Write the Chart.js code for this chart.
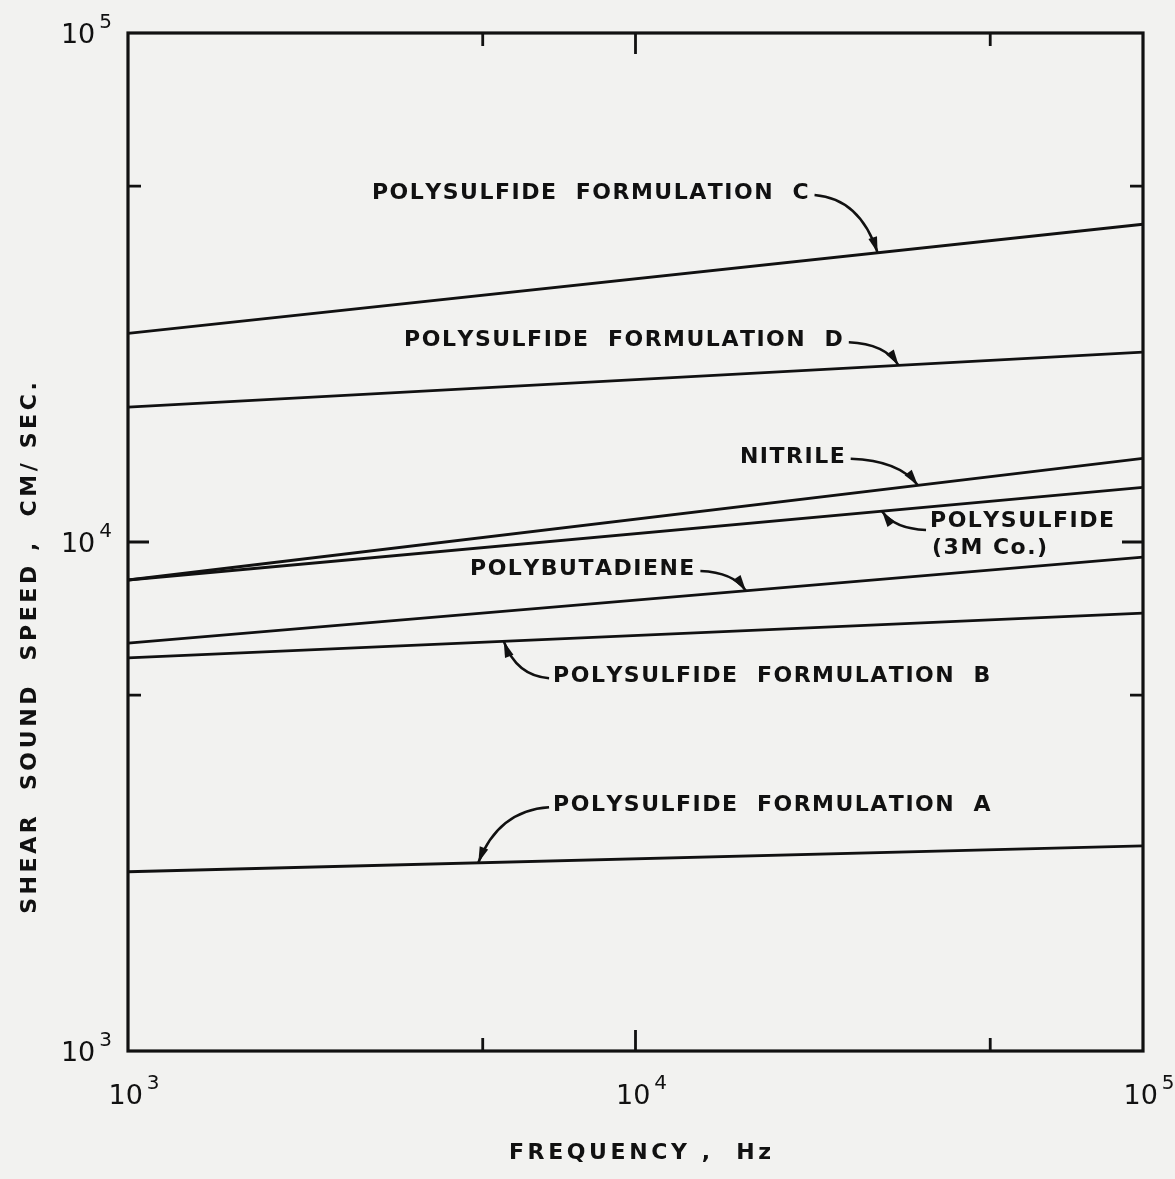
<!DOCTYPE html>
<html>
<head>
<meta charset="utf-8">
<title>Shear sound speed vs frequency</title>
<script src="https://cdn.jsdelivr.net/npm/chart.js@4.4.1/dist/chart.umd.min.js"></script>
<style>
  html, body { margin: 0; padding: 0; background: #f2f2f0; }
  #wrap { width: 1175px; height: 1179px; }
</style>
</head>
<body>
<div id="wrap"><canvas id="myChart" width="1175" height="1179"></canvas></div>
<script>
// DATA
// frequency (Hz) at the two ends of each curve
const freqs = [1e3, 1e5];
// shear sound speed (cm/sec) at those frequencies
const polyC = [25700, 42100];
const polyD = [18400, 23600];
const nitrile = [8420, 14600];
const poly3M = [8420, 12800];
const polybutadiene = [6330, 9340];
const polyB = [5920, 7250];
const polyA = [2250, 2530];

const seriesNames = [
  'Polysulfide Formulation C', 'Polysulfide Formulation D', 'Nitrile',
  'Polysulfide (3M Co.)', 'Polybutadiene', 'Polysulfide Formulation B',
  'Polysulfide Formulation A'
];
const seriesValues = [polyC, polyD, nitrile, poly3M, polybutadiene, polyB, polyA];

// axis ticks
const majorTicks = [1e3, 1e4, 1e5];
const minorTicks = [5e3, 5e4];
const tickExponents = ['3', '4', '5'];

// callouts: text, anchor (freq, speed), which curve the arrow points at and where
const notes = [
  { lines: ['POLYSULFIDE  FORMULATION  C'], at: [3025, 48500], side: 'right', series: 0, tip: 3.0e4 },
  { lines: ['POLYSULFIDE  FORMULATION  D'], at: [3500, 24900], side: 'right', series: 1, tip: 3.3e4 },
  { lines: ['NITRILE'], at: [16060, 14700], side: 'right', series: 2, tip: 3.6e4 },
  { lines: ['POLYSULFIDE', '(3M Co.)'], at: [38050, 11000], side: 'left', series: 3, tip: 3.06e4 },
  { lines: ['POLYBUTADIENE'], at: [4720, 8850], side: 'right', series: 4, tip: 1.65e4 },
  { lines: ['POLYSULFIDE  FORMULATION  B'], at: [6880, 5450], side: 'left', series: 5, tip: 5.5e3 },
  { lines: ['POLYSULFIDE  FORMULATION  A'], at: [6880, 3040], side: 'left', series: 6, tip: 4.9e3 }
];

const INK = '#111';
const LABEL_FONT = 'bold 22px "DejaVu Sans"';
const SPACING = 1.5;
const TITLE_SPACING = 3.6;

// HELPERS
function spacedWidth(ctx, text, sp) {
  let w = 0;
  for (const ch of text) w += ctx.measureText(ch).width + sp;
  return w - sp;
}

function drawSpaced(ctx, text, x, y, sp) {
  for (const ch of text) {
    ctx.fillText(ch, x, y);
    x += ctx.measureText(ch).width + sp;
  }
}

// y pixel of a drawn curve at a given x pixel
function curveY(chart, idx, px) {
  const pts = chart.getDatasetMeta(idx).data;
  const t = (px - pts[0].x) / (pts[1].x - pts[0].x);
  return pts[0].y + t * (pts[1].y - pts[0].y);
}

function drawArrow(ctx, sx, sy, tx, ty) {
  const cx = sx + 0.72 * (tx - sx);
  const cy = sy + 0.06 * (ty - sy);
  ctx.beginPath();
  ctx.moveTo(sx, sy);
  ctx.quadraticCurveTo(cx, cy, tx, ty);
  ctx.lineWidth = 2.5;
  ctx.stroke();
  // arrow head along the end tangent
  const ang = Math.atan2(ty - cy, tx - cx);
  const len = 16, half = 4.5;
  ctx.beginPath();
  ctx.moveTo(tx, ty);
  ctx.lineTo(tx - len * Math.cos(ang) + half * Math.sin(ang), ty - len * Math.sin(ang) - half * Math.cos(ang));
  ctx.lineTo(tx - len * Math.cos(ang) - half * Math.sin(ang), ty - len * Math.sin(ang) + half * Math.cos(ang));
  ctx.closePath();
  ctx.fill();
}

function drawPower(ctx, exp, x, y, align) {
  ctx.font = '27px "DejaVu Sans"';
  const wBase = ctx.measureText('10').width;
  ctx.font = '20px "DejaVu Sans"';
  const wSup = ctx.measureText(exp).width;
  const gap = 4;
  const total = wBase + gap + wSup;
  let left = align === 'right' ? x - total : x - total / 2;
  ctx.textAlign = 'left';
  ctx.textBaseline = 'alphabetic';
  ctx.font = '27px "DejaVu Sans"';
  ctx.fillText('10', left, y);
  ctx.font = '20px "DejaVu Sans"';
  ctx.fillText(exp, left + wBase + gap, y - 15);
}

// PLUGIN: paper, frame, inward ticks, labels and callouts
const paperPlugin = {
  id: 'paper',
  beforeDraw(chart) {
    const ctx = chart.ctx;
    ctx.save();
    ctx.fillStyle = '#f2f2f0';
    ctx.fillRect(0, 0, chart.width, chart.height);
    ctx.restore();
  },
  afterDatasetsDraw(chart) {
    const ctx = chart.ctx;
    const a = chart.chartArea;
    const xs = chart.scales.x, ys = chart.scales.y;
    ctx.save();
    ctx.strokeStyle = INK;
    ctx.fillStyle = INK;

    // frame
    ctx.lineWidth = 3.2;
    ctx.strokeRect(a.left, a.top, a.right - a.left, a.bottom - a.top);

    // inward ticks
    ctx.lineWidth = 2.8;
    const ticks = majorTicks.map(v => [v, 21]).concat(minorTicks.map(v => [v, 13]));
    ticks.forEach(([v, len]) => {
      const px = xs.getPixelForValue(v);
      const py = ys.getPixelForValue(v);
      ctx.beginPath();
      if (px > a.left + 2 && px < a.right - 2) {
        ctx.moveTo(px, a.bottom); ctx.lineTo(px, a.bottom - len);
        ctx.moveTo(px, a.top); ctx.lineTo(px, a.top + len);
      }
      if (py > a.top + 2 && py < a.bottom - 2) {
        ctx.moveTo(a.left, py); ctx.lineTo(a.left + len, py);
        ctx.moveTo(a.right, py); ctx.lineTo(a.right - len, py);
      }
      ctx.stroke();
    });

    // tick labels
    majorTicks.forEach((v, i) => {
      drawPower(ctx, tickExponents[i], 112, ys.getPixelForValue(v) + 10, 'right');
      drawPower(ctx, tickExponents[i], xs.getPixelForValue(v) + 6, a.bottom + 53, 'center');
    });

    // axis titles
    ctx.font = LABEL_FONT;
    ctx.textBaseline = 'middle';
    const xTitle = 'FREQUENCY ,  Hz';
    drawSpaced(ctx, xTitle, 640 - spacedWidth(ctx, xTitle, TITLE_SPACING) / 2, a.bottom + 102, TITLE_SPACING);
    const yTitle = 'SHEAR  SOUND  SPEED ,  CM/ SEC.';
    ctx.save();
    ctx.translate(30, 648);
    ctx.rotate(-Math.PI / 2);
    drawSpaced(ctx, yTitle, -spacedWidth(ctx, yTitle, TITLE_SPACING) / 2, 0, TITLE_SPACING);
    ctx.restore();

    // callouts
    notes.forEach(n => {
      const lx = xs.getPixelForValue(n.at[0]);
      const ly = ys.getPixelForValue(n.at[1]);
      ctx.font = LABEL_FONT;
      ctx.textBaseline = 'middle';
      n.lines.forEach((t, k) => drawSpaced(ctx, t, lx + (k ? 2 : 0), ly + k * 27, SPACING));
      const w = spacedWidth(ctx, n.lines[0], SPACING);
      const tx = xs.getPixelForValue(n.tip);
      const ty = curveY(chart, n.series, tx);
      const sx = n.side === 'right' ? lx + w + 6 : lx - 4;
      const sy = ly + (n.lines.length > 1 ? 9 : 2);
      drawArrow(ctx, sx, sy, tx, ty);
    });
    ctx.restore();
  }
};

// CHART
const datasets = seriesValues.map((vals, i) => ({
  label: seriesNames[i],
  data: freqs.map((f, j) => ({ x: f, y: vals[j] })),
  borderColor: INK,
  borderWidth: 2.8,
  pointRadius: 0,
  fill: false,
  tension: 0
}));

const myChart = new Chart(document.getElementById('myChart'), {
  type: 'line',
  data: { datasets: datasets },
  options: {
    responsive: false,
    animation: false,
    layout: { padding: { left: 128, top: 33, right: 32, bottom: 128 } },
    plugins: { legend: { display: false }, tooltip: { enabled: false } },
    scales: {
      x: { type: 'logarithmic', min: 1e3, max: 1e5, display: false },
      y: { type: 'logarithmic', min: 1e3, max: 1e5, display: false }
    }
  },
  plugins: [paperPlugin]
});
</script>
</body>
</html>
